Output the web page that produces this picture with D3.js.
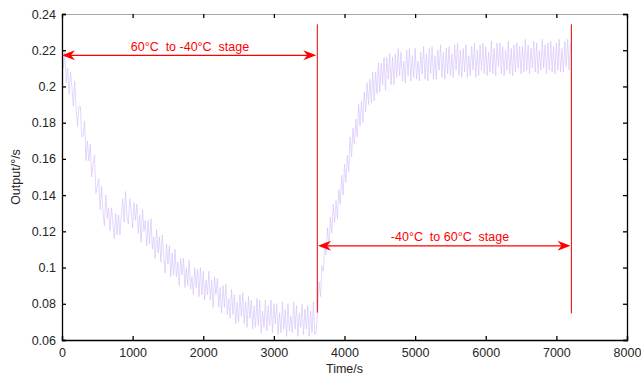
<!DOCTYPE html>
<html>
<head>
<meta charset="utf-8">
<script src="https://cdn.jsdelivr.net/npm/d3@7"></script>
<style>
  html, body { margin: 0; padding: 0; background: #fff; }
  svg { display: block; font-family: "Liberation Sans", Arial, sans-serif; }
</style>
</head>
<body>
<svg id="chart" width="641" height="377"></svg>
<script>
// ---------------- data ----------------
const sampleStep = 20; // seconds between samples
const outputValues = [
  // 0 - 980 s
  .226,.210,.219,.202,.210, .196,.208,.200,.189,.203, .187,.178,.189,.189,.172, .173,.181,.159,.170,.159,
  .168,.150,.157,.162,.141, .145,.149,.132,.145,.131, .123,.140,.127,.133,.120, .133,.125,.116,.130,.118,
  .129,.118,.129,.138,.125, .142,.128,.124,.138,.132,
  // 1000 - 1980 s
  .122,.136,.126,.135,.119, .129,.114,.132,.120,.126, .112,.126,.113,.127,.110, .117,.105,.121,.108,.117,
  .103,.118,.107,.097,.113, .102,.112,.095,.108,.096, .110,.095,.103,.090,.105, .096,.105,.089,.100,.090,
  .104,.088,.095,.085,.100, .089,.099,.084,.100,.085,
  // 2000 - 2980 s
  .098,.082,.093,.085,.098, .082,.093,.078,.095,.085, .094,.078,.089,.075,.090, .078,.091,.074,.083,.072,
  .088,.074,.085,.069,.081, .070,.085,.073,.086,.069, .081,.067,.084,.072,.082, .066,.079,.067,.083,.068,
  .082,.064,.076,.067,.082, .065,.079,.068,.082,.064,
  // 3000 - 3980 s
  .080,.069,.080,.063,.075, .064,.081,.066,.077,.062, .080,.065,.073,.064,.081, .066,.079,.062,.075,.067,
  .080,.063,.077,.066,.079, .062,.076,.064,.081,.063, .065,.076,.092,.084,.101, .098,.114,.107,.122,.111,
  .128,.119,.135,.125,.137, .127,.143,.135,.151,.140,
  // 4000 - 4980 s
  .157,.147,.162,.153,.172, .161,.177,.168,.182,.172, .190,.178,.192,.180,.197, .186,.202,.190,.204,.191,
  .208,.192,.208,.196,.213, .197,.213,.201,.216,.198, .216,.204,.218,.201,.216, .201,.218,.205,.221,.206,
  .219,.203,.214,.202,.220, .206,.221,.203,.217,.205,
  // 5000 - 5980 s
  .221,.204,.214,.203,.219, .207,.222,.204,.218,.203, .221,.207,.222,.204,.217, .204,.220,.209,.223,.205,
  .219,.204,.221,.207,.222, .206,.218,.205,.223,.209, .224,.206,.220,.205,.221, .208,.223,.205,.217,.206,
  .222,.209,.224,.205,.220, .206,.223,.209,.224,.207,
  // 6000 - 6980 s
  .222,.206,.219,.208,.225, .207,.221,.206,.224,.211, .224,.207,.222,.206,.220, .209,.225,.207,.221,.206,
  .223,.208,.224,.210,.222, .207,.222,.208,.226,.209, .223,.207,.221,.210,.225, .208,.224,.207,.220,.209,
  .226,.210,.223,.207,.224, .209,.225,.208,.222,.207,
  // 7000 - 7200 s
  .224,.209,.226,.208,.221, .208,.225,.211,.226,.209, .224
];

const xTicks = [0, 1000, 2000, 3000, 4000, 5000, 6000, 7000, 8000];
const yTicks = [0.06, 0.08, 0.10, 0.12, 0.14, 0.16, 0.18, 0.20, 0.22, 0.24];
const xDomain = [0, 8000];
const yDomain = [0.06, 0.24];

// stage boundary lines: time, y-start, y-end
const stageLines = [
  { t: 3615, y0: 0.2343, y1: 0.0751 },
  { t: 7212, y0: 0.2343, y1: 0.0746 }
];
// double arrows with their labels
const stageArrows = [
  { t0: 0,    t1: 3600, y: 0.2172, label: "60°C  to -40°C  stage", labelT: 1812, labelY: 0.2198 },
  { t0: 3625, t1: 7200, y: 0.1120, label: "-40°C  to 60°C  stage", labelT: 5494, labelY: 0.1146 }
];
const xLabel = "Time/s";
const yLabel = "Output/°/s";

// ---------------- layout ----------------
const margin = { left: 62, right: 14, top: 14, bottom: 37 };
const W = 641, H = 377;
const svg = d3.select("#chart");
svg.append("rect").attr("width", W).attr("height", H).attr("fill", "#fff");

const x = d3.scaleLinear().domain(xDomain).range([margin.left, W - margin.right]);
const y = d3.scaleLinear().domain(yDomain).range([H - margin.bottom, margin.top]);

const times = d3.range(outputValues.length).map(i => i * sampleStep);
const series = outputValues.map((v, i) => [times[i], v]);

// signal line
const line = d3.line().x(d => x(d[0])).y(d => y(d[1]));
svg.append("path")
  .datum(series)
  .attr("fill", "none")
  .attr("stroke", "#d4c0fa")
  .attr("stroke-width", 0.9)
  .attr("stroke-opacity", 0.7)
  .attr("d", line);

// frame: top edge gray, other edges black
const x0 = x(xDomain[0]), x1 = x(xDomain[1]), yT = y(yDomain[1]), yB = y(yDomain[0]);
svg.append("line").attr("x1", x0).attr("x2", x1).attr("y1", yT + 0.5).attr("y2", yT + 0.5)
  .attr("stroke", "#a8a8a8").attr("stroke-width", 1);

const fmtY = d => String(+d.toFixed(2));
const tickLen = 4;

// axes
const axisStyle = g => {
  g.selectAll(".domain").attr("stroke", "#000").attr("stroke-width", 1.3);
  g.selectAll(".tick line").attr("stroke", "#000").attr("stroke-width", 1.3);
  g.selectAll("text").attr("fill", "#262626").attr("font-size", 12.5)
    .attr("font-family", "'Liberation Sans', Arial, sans-serif");
};

svg.append("g").attr("transform", `translate(0,${yB})`)
  .call(d3.axisBottom(x).tickValues(xTicks).tickSize(-tickLen).tickPadding(8).tickFormat(d3.format("d")))
  .call(axisStyle);
svg.append("g").attr("transform", `translate(${x0},0)`)
  .call(d3.axisLeft(y).tickValues(yTicks).tickSize(-tickLen).tickPadding(6).tickFormat(fmtY))
  .call(axisStyle);
svg.append("g").attr("transform", `translate(${x1},0)`)
  .call(d3.axisRight(y).tickValues(yTicks).tickSize(-tickLen).tickFormat(""))
  .call(axisStyle);
svg.append("g").attr("transform", `translate(0,${yT})`)
  .call(d3.axisTop(x).tickValues(xTicks).tickSize(-tickLen).tickFormat(""))
  .call(g => { axisStyle(g); g.select(".domain").remove(); });

// axis labels
svg.append("text")
  .attr("x", (x0 + x1) / 2).attr("y", 373)
  .attr("text-anchor", "middle").attr("font-size", 12.5).attr("fill", "#262626")
  .text(xLabel);
svg.append("text")
  .attr("transform", `translate(20,${(yT + yB) / 2}) rotate(-90)`)
  .attr("text-anchor", "middle").attr("font-size", 12.5).attr("fill", "#262626")
  .text(yLabel);

// stage boundary lines
svg.selectAll(".stage-line").data(stageLines).join("line")
  .attr("x1", d => x(d.t)).attr("x2", d => x(d.t))
  .attr("y1", d => y(d.y0)).attr("y2", d => y(d.y1))
  .attr("stroke", "#e00000").attr("stroke-width", 1);

// arrows
const red = "#ff0000";
const L = 13, w = 5, notch = 4;
function headPath(tipX, tipY, dir) {
  const bx = tipX - dir * L, nx = tipX - dir * (L - notch);
  return `M${tipX},${tipY}L${bx},${tipY - w}L${nx},${tipY}L${bx},${tipY + w}Z`;
}
const ag = svg.selectAll(".arrow").data(stageArrows).join("g");
ag.append("line")
  .attr("x1", d => x(d.t0) + 3).attr("x2", d => x(d.t1) - 3)
  .attr("y1", d => y(d.y)).attr("y2", d => y(d.y))
  .attr("stroke", red).attr("stroke-width", 1.2);
ag.append("path").attr("d", d => headPath(x(d.t0), y(d.y), -1)).attr("fill", red);
ag.append("path").attr("d", d => headPath(x(d.t1), y(d.y), 1)).attr("fill", red);
ag.append("text")
  .attr("x", d => x(d.labelT)).attr("y", d => y(d.labelY))
  .attr("text-anchor", "middle").attr("font-size", 12.5).attr("fill", red)
  .style("white-space", "pre")
  .text(d => d.label);
</script>
</body>
</html>
